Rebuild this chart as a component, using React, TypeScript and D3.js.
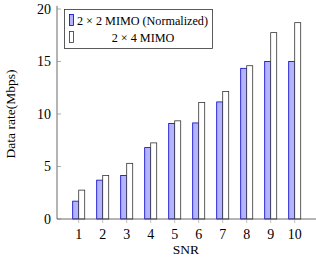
import { useEffect, useRef } from "react";
import * as d3 from "d3";

const W = 316;
const H = 258;
const FONT = "Liberation Serif, Times New Roman, DejaVu Serif, serif";

const snr = [1, 2, 3, 4, 5, 6, 7, 8, 9, 10];
const mimo22 = [1.7, 3.7, 4.15, 6.8, 9.1, 9.15, 11.15, 14.35, 15.0, 15.0];
const mimo44 = [2.75, 4.15, 5.3, 7.25, 9.35, 11.1, 12.15, 14.6, 17.75, 18.7];
const yTicks = [0, 5, 10, 15, 20];
const seriesNames = ["2 × 2 MIMO (Normalized)", "2 × 4 MIMO"];

export default function App() {
  const svgRef = useRef<SVGSVGElement | null>(null);

  useEffect(() => {
    if (!svgRef.current) return;
    const svg = d3.select(svgRef.current);
    svg.selectAll("*").remove();

    const x = d3.scaleLinear().domain([1, 10]).range([78.7, 294.7]);
    const y = d3.scaleLinear().domain([0, 20]).range([219, 9]);
    const barW = 6;

    const g = svg.append("g").attr("font-family", FONT);

    // bars: 2x2 on the left of the tick, 2x4 on the right
    g.selectAll("rect.a")
      .data(snr)
      .enter()
      .append("rect")
      .attr("x", (d) => x(d) - barW)
      .attr("y", (d, i) => y(mimo22[i]))
      .attr("width", barW)
      .attr("height", (d, i) => y(0) - y(mimo22[i]))
      .attr("fill", "#b3b3ff")
      .attr("stroke", "#0000cc")
      .attr("stroke-width", 0.8);

    g.selectAll("rect.b")
      .data(snr)
      .enter()
      .append("rect")
      .attr("x", (d) => x(d))
      .attr("y", (d, i) => y(mimo44[i]))
      .attr("width", barW)
      .attr("height", (d, i) => y(0) - y(mimo44[i]))
      .attr("fill", "#ffffff")
      .attr("stroke", "#333")
      .attr("stroke-width", 0.8);

    // axis lines
    g.append("line")
      .attr("x1", 57).attr("x2", 57)
      .attr("y1", y(20.3)).attr("y2", y(0))
      .attr("stroke", "#444").attr("stroke-width", 0.8);
    g.append("line")
      .attr("x1", 57).attr("x2", 316)
      .attr("y1", y(0)).attr("y2", y(0))
      .attr("stroke", "#444").attr("stroke-width", 0.8);

    // y ticks
    const yt = g.selectAll("g.yt").data(yTicks).enter().append("g");
    yt.append("line")
      .attr("x1", 57).attr("x2", 61)
      .attr("y1", (d) => y(d)).attr("y2", (d) => y(d))
      .attr("stroke", "#777").attr("stroke-width", 0.6);
    yt.append("text")
      .attr("x", 51)
      .attr("y", (d) => y(d))
      .attr("dy", "0.35em")
      .attr("text-anchor", "end")
      .attr("font-size", 14)
      .text((d) => d);

    // x ticks
    const xt = g.selectAll("g.xt").data(snr).enter().append("g");
    xt.append("line")
      .attr("x1", (d) => x(d)).attr("x2", (d) => x(d))
      .attr("y1", y(0)).attr("y2", y(0) + 4)
      .attr("stroke", "#999").attr("stroke-width", 0.6);
    xt.append("text")
      .attr("x", (d) => x(d))
      .attr("y", 239)
      .attr("text-anchor", "middle")
      .attr("font-size", 14)
      .text((d) => d);

    // axis labels
    g.append("text")
      .attr("x", 186).attr("y", 254)
      .attr("text-anchor", "middle")
      .attr("font-size", 13.5)
      .text("SNR");
    g.append("text")
      .attr("transform", "translate(15,114) rotate(-90)")
      .attr("text-anchor", "middle")
      .attr("font-size", 13.5)
      .text("Data rate(Mbps)");

    // legend
    const lg = g.append("g");
    lg.append("rect")
      .attr("x", 64.5).attr("y", 9.5)
      .attr("width", 148).attr("height", 39)
      .attr("fill", "#fff")
      .attr("stroke", "#333").attr("stroke-width", 0.8);
    lg.append("rect")
      .attr("x", 69.5).attr("y", 14.5).attr("width", 4).attr("height", 11)
      .attr("fill", "#b3b3ff").attr("stroke", "#0000cc").attr("stroke-width", 0.8);
    lg.append("rect")
      .attr("x", 69.5).attr("y", 31.5).attr("width", 4).attr("height", 11)
      .attr("fill", "#fff").attr("stroke", "#333").attr("stroke-width", 0.8);
    lg.append("text")
      .attr("x", 77).attr("y", 24.5)
      .attr("font-size", 12.2)
      .attr("textLength", 131)
      .text(seriesNames[0]);
    lg.append("text")
      .attr("x", 143).attr("y", 41.5)
      .attr("text-anchor", "middle")
      .attr("font-size", 12.2)
      .text(seriesNames[1]);
  }, []);

  return (
    <svg
      ref={svgRef}
      width={W}
      height={H}
      style={{ position: "absolute", left: 0, top: 0, background: "#fff" }}
    />
  );
}
